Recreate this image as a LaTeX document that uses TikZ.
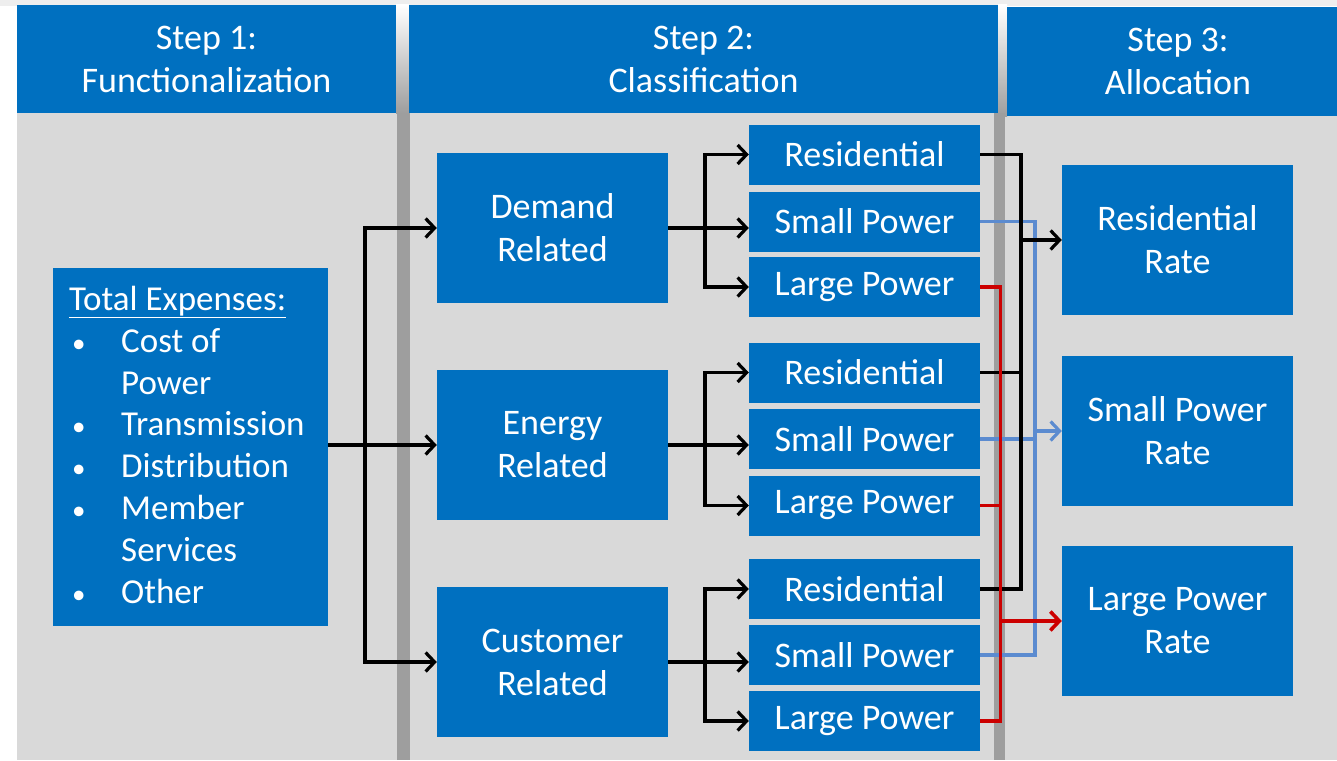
\documentclass[tikz,border=0pt]{standalone}
\usepackage{fontspec}
\setmainfont{Carlito}
\usetikzlibrary{arrows.meta}
\definecolor{boxblue}{HTML}{0070C0}
\definecolor{panelgray}{HTML}{D9D9D9}
\definecolor{sepgray}{HTML}{9E9E9E}
\definecolor{lineblue}{HTML}{5B8BD0}
\definecolor{linered}{HTML}{CC0000}
\definecolor{topgray}{HTML}{EEEEEE}
\tikzset{
  bx/.style={fill=boxblue, draw=none, text=white, align=center, inner sep=0pt,
    font=\fontsize{36}{43}\selectfont},
  subbx/.style={bx, minimum width=231pt, minimum height=60pt},
  clsbx/.style={bx, minimum width=231pt, minimum height=150pt},
  ratebx/.style={bx, minimum width=231pt, minimum height=150pt},
  hdr/.style={bx},
  ln/.style={line width=3.2pt, line join=miter},
  arrhead/.style={-{Straight Barb[length=9pt,width=19pt]}},
  blk/.style={ln, draw=black},
  blu/.style={ln, draw=lineblue, line width=3.2pt},
  rd/.style={ln, draw=linered, line width=3.6pt},
  bul/.style={},
}
\newcommand{\bulmark}{\hspace*{3pt}{\fontsize{27}{27}\selectfont\textbullet}}
\begin{document}
\begin{tikzpicture}[x=1pt,y=-1pt]
\useasboundingbox (0,0) rectangle (1337,760);
% background
\fill[white] (0,0) rectangle (1337,760);
\fill[topgray] (0,0) rectangle (1337,6);
\fill[panelgray] (17,112) rectangle (1337,760);
% separators
\shade[top color=white, bottom color=sepgray] (396,5) rectangle (409,113);
\fill[sepgray] (397,113) rectangle (410,760);
\shade[top color=white, bottom color=sepgray] (998,5) rectangle (1007,116);
\fill[sepgray] (994,113) rectangle (1005,760);
% headers
\node[hdr, minimum width=379pt, minimum height=108pt] (h1) at (206.5,59) {Step 1:\\Functionalization};
\node[hdr, minimum width=589pt, minimum height=108pt] (h2) at (703.5,59) {Step 2:\\Classification};
\node[hdr, minimum width=330pt, minimum height=109pt] (h3) at (1172,61.5) {\hspace*{12pt}Step 3:\\\hspace*{12pt}Allocation};
% total expenses
\node[bx, minimum width=275pt, minimum height=358pt] (total) at (190.5,447) {};
\node[anchor=north west, inner sep=0pt, text=white, font=\fontsize{35}{41.8}\selectfont] (totaltext) at (69,281)
{\begin{tabular}{@{}p{52pt}@{}l@{}}
\multicolumn{2}{@{}l@{}}{\underline{Total Expenses:}}\\
\bulmark & Cost of\\
 & Power\\
\bulmark & Transmission\\
\bulmark & Distribution\\
\bulmark & Member\\
 & Services\\
\bulmark & Other
\end{tabular}};
% classification boxes
\node[clsbx] (demand) at (552.5,228) {Demand\\Related};
\node[clsbx] (energy) at (552.5,445) {Energy\\Related};
\node[clsbx] (customer) at (552.5,662) {Customer\\Related};
% sub boxes
\node[subbx] (dres) at (864.5,154.5) {Residential};
\node[subbx] (dsp) at (864.5,221.5) {Small Power};
\node[subbx] (dlp) at (864.5,287) {Large Power};
\node[subbx] (eres) at (864.5,372.5) {Residential};
\node[subbx] (esp) at (864.5,439) {Small Power};
\node[subbx] (elp) at (864.5,505.5) {Large Power};
\node[subbx] (cres) at (864.5,589) {Residential};
\node[subbx] (csp) at (864.5,655) {Small Power};
\node[subbx] (clp) at (864.5,721) {Large Power};
% rate boxes
\node[ratebx] (rrate) at (1177.5,240) {Residential\\Rate};
\node[ratebx] (srate) at (1177.5,431) {Small Power\\Rate};
\node[ratebx] (lrate) at (1177.5,621) {Large Power\\Rate};
% trunk coordinates
\coordinate (t1) at (365,0);
\coordinate (t2) at (705,0);
\coordinate (xb) at (1021,0);
\coordinate (xl) at (1035,0);
\coordinate (xr) at (1000.5,0);
% step 1 -> step 2
\draw[blk, arrhead] (total.east |- energy.west) -- (energy.west);
\draw[blk, arrhead] (t1 |- energy.west) |- (demand.west);
\draw[blk, arrhead] (t1 |- energy.west) |- (customer.west);
% classification -> sub boxes
\foreach \c/\r/\s/\l in {demand/dres/dsp/dlp, energy/eres/esp/elp, customer/cres/csp/clp}{
  \draw[blk, arrhead] (\c.east) -- (\s.west |- \c.east);
  \draw[blk, arrhead] (t2 |- \c.east) |- (\r.west);
  \draw[blk, arrhead] (t2 |- \c.east) |- (\l.west);
}
% blue: small power
\draw[blu] (dsp.east) -- (dsp.east -| xl) -- (csp.east -| xl) -- (csp.east);
\draw[blu] (esp.east) -- (esp.east -| xl);
\draw[blu, arrhead] (srate.west -| xl) -- (srate.west);
% black: residential
\draw[blk] (dres.east) -- (dres.east -| xb) -- (cres.east -| xb) -- (cres.east);
\draw[blk] (eres.east) -- (eres.east -| xb);
\draw[blk, arrhead] (rrate.west -| xb) -- (rrate.west);
% red: large power
\draw[rd] (dlp.east) -- (dlp.east -| xr) -- (clp.east -| xr) -- (clp.east);
\draw[rd] (elp.east) -- (elp.east -| xr);
\draw[rd, arrhead] (lrate.west -| xr) -- (lrate.west);
\end{tikzpicture}
\end{document}
